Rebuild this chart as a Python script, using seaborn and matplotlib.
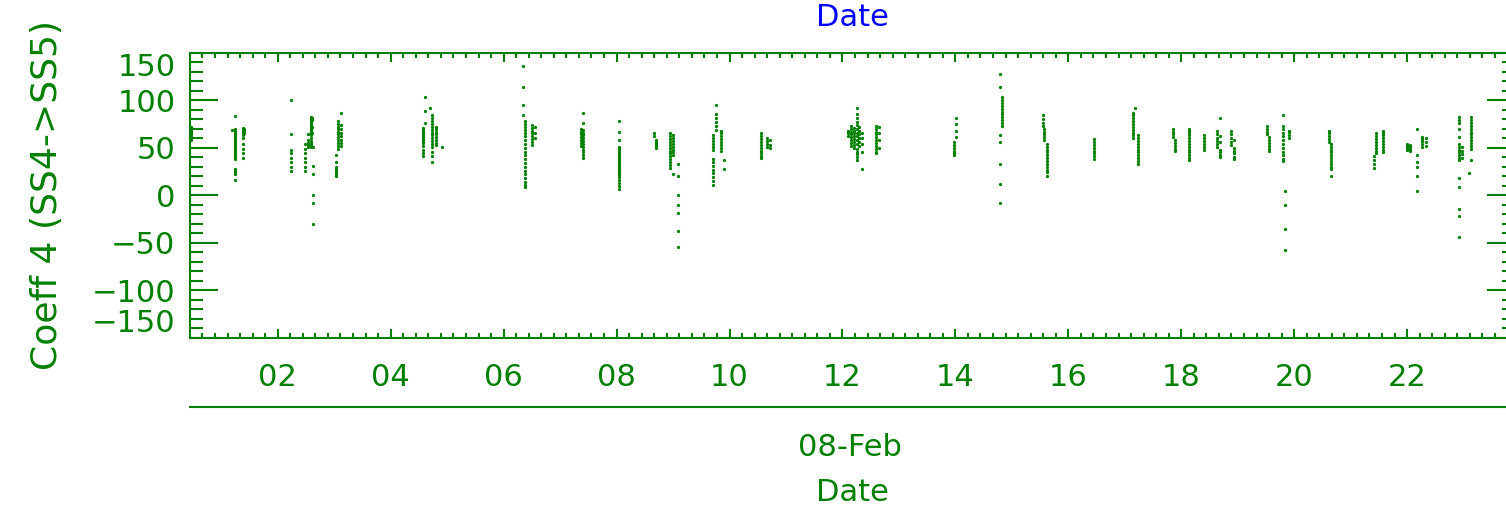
import numpy as np
import pandas as pd
import matplotlib
matplotlib.use("Agg")
import matplotlib.pyplot as plt
from matplotlib.ticker import MultipleLocator, FixedLocator, NullLocator, FuncFormatter
import seaborn as sns

# ---------------- data (hour of day on 08-Feb, coefficient values) ----------------
burst_hours = [
    0.47, 1.19, 1.24, 1.38, 1.41, 2.23, 2.48, 2.53, 2.58, 2.61, 2.63,
    3.04, 3.07, 3.12, 4.58, 4.60, 4.70, 4.74, 4.81, 4.90,
    6.35, 6.37, 6.50, 6.55, 7.37, 7.40, 8.05, 8.67, 8.70,
    8.95, 9.00, 9.09, 9.71, 9.76, 9.85, 9.90, 10.56, 10.66, 10.72,
    12.10, 12.16, 12.21, 12.25, 12.30, 12.34, 12.60, 12.65,
    13.97, 14.01, 14.79, 14.83, 15.55, 15.57, 15.62, 16.46,
    17.15, 17.18, 17.24, 17.86, 17.89, 18.13, 18.40, 18.64, 18.68,
    18.88, 18.93, 19.51, 19.56, 19.80, 19.84, 19.90,
    20.62, 20.66, 21.42, 21.44, 21.58, 22.00, 22.05, 22.18, 22.27, 22.33,
    22.92, 22.98, 23.10, 23.13,
]
burst_values = [
    [72, 70, 68, 66, 64, 62, 60, 58],
    [69],
    [83, 70, 68, 66, 64, 62, 60, 58, 56, 54, 52, 50, 48, 46, 44, 42, 40, 38, 28, 26, 24, 22, 16],
    [71, 69, 67, 65, 63, 60, 54, 49, 44, 39],
    [70, 68, 66],
    [100, 64, 48, 44, 39, 35, 30, 25],
    [54, 49, 44, 39, 35, 30, 25],
    [64, 58, 55, 53, 51],
    [82, 80, 78, 76, 74, 72, 70, 68, 66, 63, 60, 57, 55, 53, 51],
    [81, 79, 72, 66],
    [51, 31, 22, 0, -8, -30],
    [42, 35, 30, 28, 26, 24, 22, 20],
    [78, 75, 72, 70, 67, 64, 61, 58, 55, 52, 49],
    [87, 74, 70, 66, 62, 58, 55, 52],
    [71, 69, 67, 65, 63, 61, 59, 57, 55, 52, 48, 44, 41],
    [103, 89, 76],
    [92],
    [84, 81, 78, 75, 72, 69, 66, 63, 60, 57, 54, 51, 46, 41, 35],
    [72, 70, 67, 64, 61, 58, 55, 53],
    [51],
    [136, 114, 95, 84],
    [78, 75, 72, 69, 66, 62, 58, 54, 50, 46, 42, 38, 34, 30, 26, 22, 18, 14, 11, 9],
    [74, 71, 68, 65, 62, 59, 56, 53],
    [72, 66, 60],
    [70, 67, 64, 61, 58, 55, 52],
    [86, 76, 69, 66, 63, 60, 57, 54, 51, 48, 45, 42, 39],
    [78, 67, 58, 51, 49, 47, 45, 43, 41, 39, 37, 35, 33, 31, 29, 27, 25, 23, 21, 19, 16, 13, 10, 7],
    [65, 62],
    [58, 56, 54, 52, 50],
    [65, 62, 59, 56, 53, 50, 47, 44, 41, 38, 35, 32, 29],
    [63, 60, 57, 54, 51, 48, 45, 42, 22],
    [33, 20, 0, -10, -19, -38, -55],
    [63, 60, 57, 54, 51, 48, 38, 35, 31, 27, 23, 19, 15, 11],
    [95, 85, 81, 77, 73, 69],
    [68, 65, 62, 59, 56, 53, 50, 47],
    [37, 28],
    [65, 62, 59, 56, 53, 50, 47, 44, 41, 39],
    [60, 57, 54, 51],
    [58, 53, 50],
    [68, 65, 62],
    [73, 70, 67, 64, 61, 58, 55, 52],
    [71, 68, 65, 62, 59, 56, 53, 50],
    [92, 85, 81, 77, 74, 70, 66, 62, 58, 54, 49, 46, 43, 40, 37],
    [72, 68, 64, 60, 56, 52],
    [66, 60, 54, 45, 28],
    [73, 70, 67, 64, 61, 58, 55, 52, 49, 46, 44],
    [72, 65, 58, 50],
    [56, 53, 50, 47, 44, 42],
    [81, 75, 68, 61],
    [128, 114, 63, 56, 33, 12, -8],
    [103, 100, 97, 94, 91, 88, 85, 82, 79, 76, 73],
    [84, 80, 76, 73],
    [70, 67, 64, 61, 58],
    [54, 51, 48, 45, 42, 39, 36, 33, 30, 27, 24, 20],
    [59, 56, 53, 50, 47, 44, 41, 38],
    [87, 84, 81, 78, 75, 72, 69, 66, 63, 60],
    [92],
    [63, 60, 57, 54, 51, 48, 45, 42, 39, 36, 33],
    [70, 67, 64, 61],
    [58, 55, 52, 49, 47],
    [70, 68, 66, 63, 60, 57, 54, 51, 48, 45, 42, 39, 37],
    [63, 60, 57, 54, 51, 48],
    [68, 64, 60, 57, 54, 51],
    [81, 62, 56, 48, 45, 42, 40],
    [68, 64, 60, 56, 53],
    [58, 50, 47, 44, 40, 38],
    [73, 70, 67, 64],
    [61, 58, 55, 52, 49, 47],
    [84, 73, 70, 66, 62, 58, 54, 50, 46, 42, 38, 36],
    [4, -10, -36, -58],
    [68, 67, 63, 60],
    [68, 65, 62, 59, 56],
    [54, 51, 48, 45, 42, 39, 36, 33, 30, 28, 20],
    [41, 37, 33, 29],
    [65, 62, 59, 56, 53, 50, 47, 44],
    [68, 66, 63, 60, 57, 54, 51, 48, 45],
    [54, 52, 50, 48],
    [53, 51, 49, 47],
    [70, 42, 35, 30, 20, 4],
    [61, 59, 57, 54, 51],
    [60, 56, 52],
    [82, 79, 76, 70, 61, 54, 51, 48, 45, 42, 39, 37, 18, 9, -15, -22, -44],
    [51, 47, 43, 39],
    [23],
    [82, 79, 76, 73, 70, 67, 64, 61, 58, 55, 52, 49, 37],
]

x_range = [0.446, 23.91]
y_range = [-150, 150]
x_ticks = [2, 4, 6, 8, 10, 12, 14, 16, 18, 20, 22]
y_ticks = [-150, -100, -50, 0, 50, 100, 150]
date_label = "08-Feb"
date_label_hour = 12.13

# ---------------- build long table ----------------
hours, values = [], []
for h, vals in zip(burst_hours, burst_values):
    hours.extend([h] * len(vals))
    values.extend(vals)
df = pd.DataFrame({"hour": hours, "coeff": values})

GREEN = "#008000"
plt.rcParams["font.family"] = ["DejaVu Sans"]

W, H = 1506, 507
fig = plt.figure(figsize=(W / 100, H / 100), dpi=100)
left_px, right_px, top_px, bottom_px = 190, 1515, 52.7, 337.7
ax = fig.add_axes([left_px / W, (H - bottom_px) / H,
                   (right_px - left_px) / W, (bottom_px - top_px) / H])

sns.scatterplot(data=df, x="hour", y="coeff", ax=ax, marker="o", s=5.5,
                color=GREEN, linewidth=0, legend=False, clip_on=False)

ax.set_xlim(*x_range)
ax.set_ylim(*y_range)

for sp in ax.spines.values():
    sp.set_color(GREEN)
    sp.set_linewidth(1.5)

ax.xaxis.set_major_locator(FixedLocator(x_ticks))
ax.xaxis.set_minor_locator(MultipleLocator(2 / 9))
ax.xaxis.set_major_formatter(FuncFormatter(lambda v, p: f"{int(round(v)):02d}"))
ax.set_yticks(y_ticks)
ax.yaxis.set_minor_locator(MultipleLocator(10))

ax.tick_params(axis="both", which="both", direction="in", top=True, right=True,
               colors=GREEN, width=1.5, labelsize=22)
ax.tick_params(axis="x", which="major", length=6.5, pad=18)
ax.tick_params(axis="x", which="minor", length=3.6)
ax.tick_params(axis="y", which="major", length=20.5, pad=10.5)
ax.tick_params(axis="y", which="minor", length=9.5)

yt = ax.yaxis.get_major_ticks()
yt[-1].label1.set_va("top")
yt[0].label1.set_va("bottom")

ax.set_xlabel("")
ax.set_ylabel("Coeff 4 (SS4->SS5)", color=GREEN, fontsize=26, labelpad=20)
ax.set_title("Date", color="#0000ff", fontsize=22, pad=19)

# secondary date axis below
sec = ax.secondary_xaxis(-(407 - bottom_px) / (bottom_px - top_px))
sec.spines["bottom"].set_color(GREEN)
sec.spines["bottom"].set_linewidth(1.5)
sec.set_xticks([date_label_hour])
sec.set_xticklabels([date_label])
sec.xaxis.set_minor_locator(NullLocator())
sec.tick_params(axis="x", which="both", length=0, colors=GREEN, labelsize=22, pad=19)
sec.set_xlabel("Date", color=GREEN, fontsize=22, labelpad=11)

fig.savefig("out.png", dpi=100, facecolor="white")
